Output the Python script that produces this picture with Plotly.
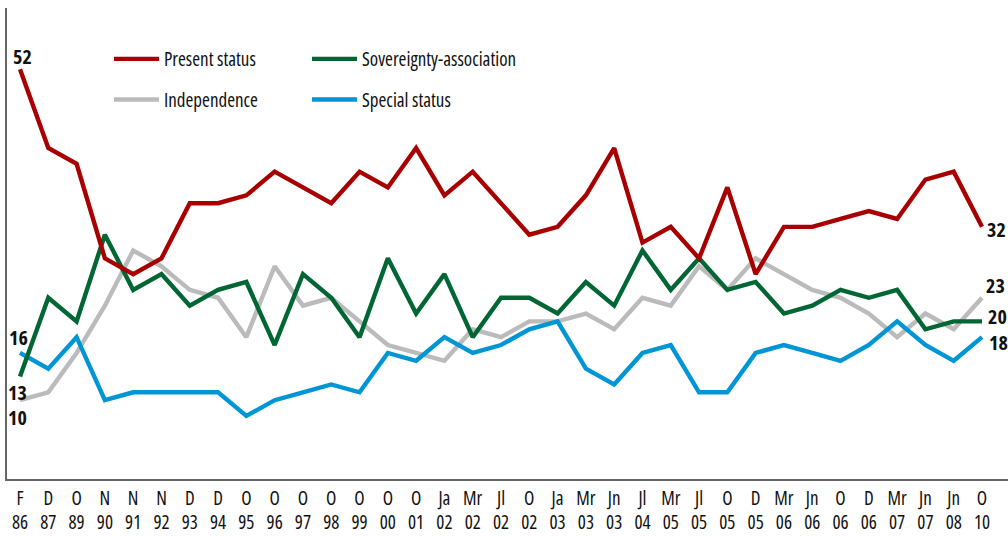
import plotly.graph_objects as go

months = ["F", "D", "O", "N", "N", "N", "D", "D", "O", "O", "O", "O", "O", "O", "O",
          "Ja", "Mr", "Jl", "O", "Ja", "Mr", "Jn", "Jl", "Mr", "Jl", "O", "D", "Mr",
          "Jn", "O", "D", "Mr", "Jn", "Jn", "O"]
years = ["86", "87", "89", "90", "91", "92", "93", "94", "95", "96", "97", "98", "99",
         "00", "01", "02", "02", "02", "02", "03", "03", "03", "04", "05", "05", "05",
         "05", "06", "06", "06", "06", "07", "07", "08", "10"]

present_status = [52, 42, 40, 28, 26, 28, 35, 35, 36, 39, 37, 35, 39, 37, 42, 36, 39, 35,
                  31, 32, 36, 42, 30, 32, 28, 37, 26, 32, 32, 33, 34, 33, 38, 39, 32]
sovereignty_association = [13, 23, 20, 31, 24, 26, 22, 24, 25, 17, 26, 23, 18, 28, 21, 26,
                           18, 23, 23, 21, 25, 22, 29, 24, 28, 24, 25, 21, 22, 24, 23, 24,
                           19, 20, 20]
independence = [10, 11, 16, 22, 29, 27, 24, 23, 18, 27, 22, 23, 20, 17, 16, 15, 19, 18, 20,
                20, 21, 19, 23, 22, 27, 24, 28, 26, 24, 23, 21, 18, 21, 19, 23]
special_status = [16, 14, 18, 10, 11, 11, 11, 11, 8, 10, 11, 12, 11, 16, 15, 18, 16, 17, 19,
                  20, 14, 12, 16, 17, 11, 11, 16, 17, 16, 15, 17, 20, 17, 15, 18]

x = list(range(len(months)))
ticktext = [f"{m}<br>{y}" for m, y in zip(months, years)]

FONT = "Open Sans, Roboto, sans-serif"

# (name, values, colour, legend, rank)
series = [
    ("Present status", present_status, "#A80000", "legend", 1),
    ("Independence", independence, "#BBBBBB", "legend", 2),
    ("Sovereignty-association", sovereignty_association, "#006633", "legend2", 1),
    ("Special status", special_status, "#0096D6", "legend2", 2),
]

fig = go.Figure()
draw_order = [series[1], series[3], series[2], series[0]]
for name, vals, col, lg, rank in draw_order:
    fig.add_trace(go.Scatter(
        x=x, y=vals, mode="lines", name=name,
        line=dict(color=col, width=4.4),
        legend=lg, legendgroup=name, legendrank=rank,
    ))

# end labels
labels = [
    (0, 52, "52", 2, 13),
    (0, 16, "16", -2, 15),
    (0, 13, "13", -3, -16),
    (0, 10, "10", -3, -17),
    (34, 32, "32", 14, -3),
    (34, 23, "23", 13, 12),
    (34, 20, "20", 15, 5),
    (34, 18, "18", 16, -5),
]
for xi, yi, t, dx, dy in labels:
    fig.add_annotation(x=xi, y=yi, text=f"<b>{t}</b>", showarrow=False,
                       xshift=dx, yshift=dy,
                       font=dict(family=FONT, size=20, color="#111111"))

legend_common = dict(xanchor="left", yanchor="top", bgcolor="rgba(0,0,0,0)",
                     font=dict(family=FONT, size=19, color="#111111"),
                     tracegroupgap=13, traceorder="grouped", itemwidth=45)

fig.update_layout(
    width=1008, height=537,
    margin=dict(l=7, r=0, t=8, b=58),
    plot_bgcolor="white", paper_bgcolor="white",
    font=dict(family=FONT, size=19, color="#111111"),
    showlegend=True,
    legend=dict(x=(109 - 7) / 1001, y=1 - (40 - 8) / 471, **legend_common),
    legend2=dict(x=(307 - 7) / 1001, y=1 - (40 - 8) / 471, **legend_common),
    xaxis=dict(range=[-13 / 28.294, 34 + 26 / 28.294], tickmode="array", tickvals=x,
               ticktext=ticktext, showgrid=False, zeroline=False, showline=True,
               linecolor="#666666", linewidth=1.5, ticks="", ticklabelstandoff=1,
               automargin=False,
               tickfont=dict(family=FONT, size=19, color="#111111")),
    yaxis=dict(range=[0, 471 / 7.88], showgrid=False, zeroline=False, showline=True,
               linecolor="#666666", linewidth=1.5, showticklabels=False, ticks="",
               automargin=False),
)

fig.write_html("out.html", config={"displayModeBar": False})

# remove the default page margin and ask for condensed faces where available
with open("out.html", "r", encoding="utf-8") as f:
    html = f.read()
css = ("<style>html,body{margin:0;padding:0;overflow:hidden;}"
       ".main-svg text{font-stretch:75%;}</style>")
html = html.replace("<head>", "<head>" + css, 1)
with open("out.html", "w", encoding="utf-8") as f:
    f.write(html)
